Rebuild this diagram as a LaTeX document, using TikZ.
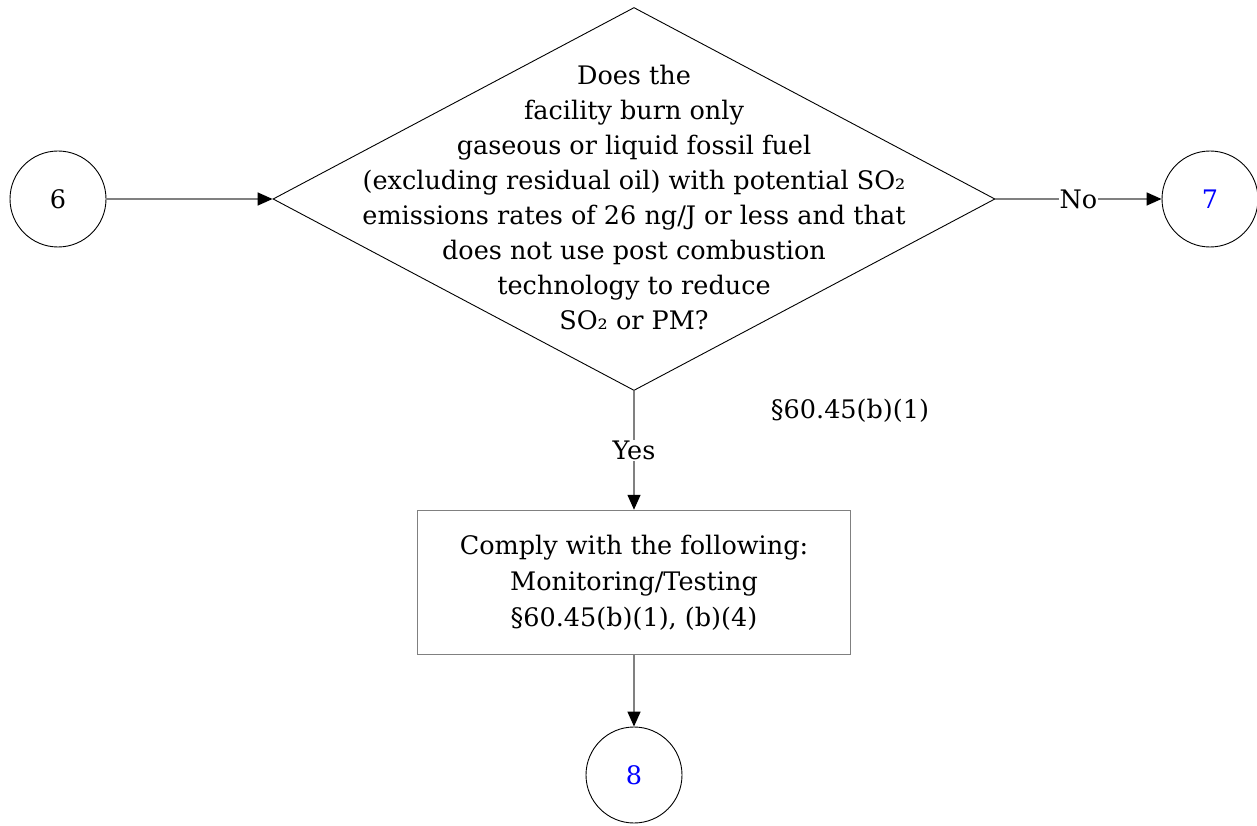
\documentclass[tikz,border=0pt]{standalone}
\usepackage{fontspec}
\setmainfont{DejaVu Serif}
\usetikzlibrary{shapes.geometric,arrows.meta}
\definecolor{linegray}{RGB}{128,128,128}
\definecolor{refblue}{RGB}{0,0,255}
\tikzset{
  conn/.style={draw=linegray, line width=1.5pt, -{Triangle[length=15pt,width=13pt,color=black]}},
  term/.style={circle, draw=black, line width=0.9pt, minimum size=96pt, inner sep=0pt, font=\fontsize{25.5}{35}\selectfont},
  decision/.style={diamond, draw=black, line width=0.9pt, minimum width=722pt, minimum height=383pt, inner sep=0pt},
  txt/.style={align=center, font=\fontsize{25.5}{35}\selectfont, inner sep=0pt},
  actbox/.style={rectangle, draw=linegray, line width=1.5pt, minimum width=433pt, minimum height=144pt, align=center, font=\fontsize{25.5}{36}\selectfont},
  lbl/.style={fill=white, inner sep=1pt, font=\fontsize{25.5}{35}\selectfont}
}
\begin{document}
\begin{tikzpicture}[x=1pt,y=-1pt]
\useasboundingbox (0,0) rectangle (1257,826);
\node[term] (c6) at (58,199) {6};
\node[term, text=refblue] (c7) at (1210,199) {7};
\node[decision] (q) at (634,199) {};
\node[txt] (qtext) at (634,197) {Does the\\facility burn only\\gaseous or liquid fossil fuel\\(excluding residual oil) with potential SO₂\\emissions rates of 26 ng/J or less and that\\does not use post combustion\\technology to reduce\\SO₂ or PM?};
\node[txt] (ref) at (850,411) {§60.45(b)(1)};
\node[actbox] (box) at (634,582.5) {Comply with the following:\\Monitoring/Testing\\§60.45(b)(1), (b)(4)};
\node[term, text=refblue] (c8) at (634,775) {8};
\draw[conn] (c6) -- (q.west);
\draw[conn] (q.east) -- node[lbl] {No} (c7);
\draw[conn] (q.south) -- node[lbl] {Yes} (box.north);
\draw[conn] (box.south) -- (c8);
\end{tikzpicture}
\end{document}
